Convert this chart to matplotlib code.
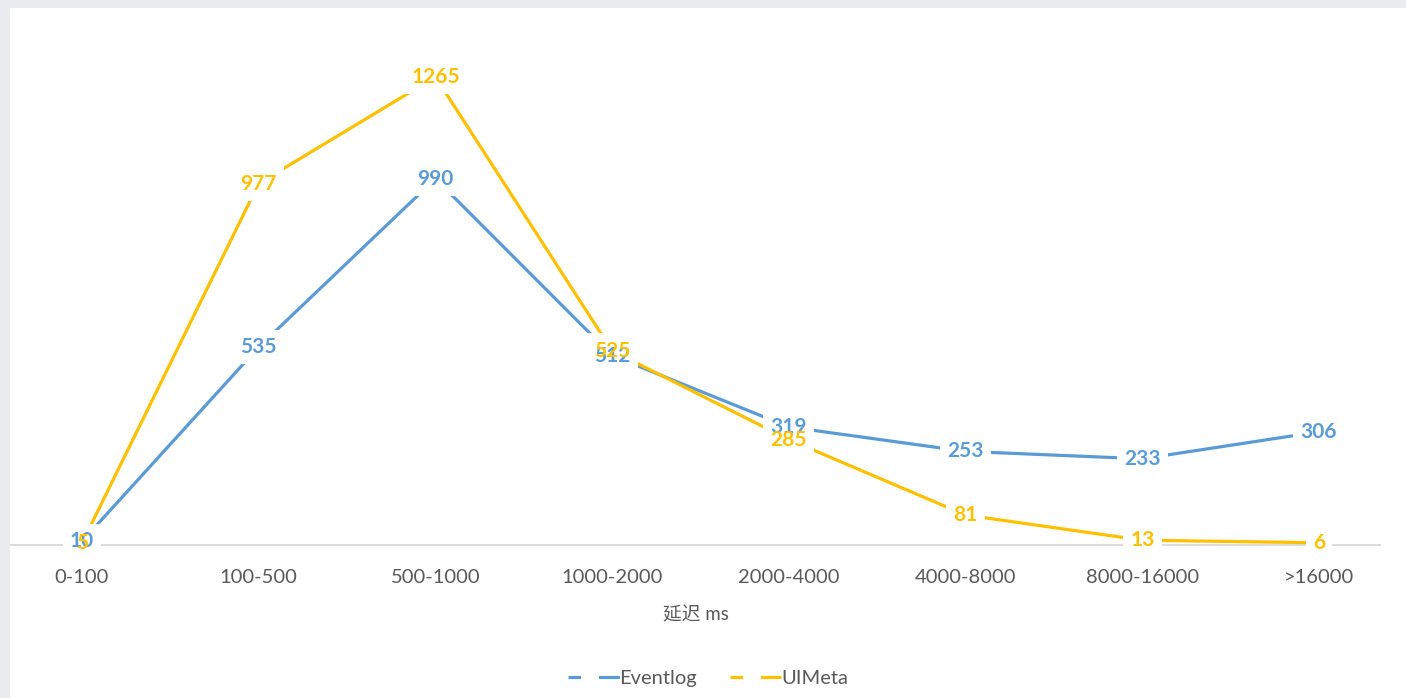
import matplotlib
matplotlib.use('Agg')
import matplotlib.pyplot as plt
from matplotlib.lines import Line2D
from matplotlib.patches import Rectangle

plt.rcParams['font.family'] = ['Lato', 'Noto Sans CJK SC', 'DejaVu Sans']
plt.rcParams['lines.scale_dashes'] = False

categories = ['0-100', '100-500', '500-1000', '1000-2000', '2000-4000',
              '4000-8000', '8000-16000', '>16000']
eventlog = [10, 535, 990, 512, 319, 253, 233, 306]
uimeta = [5, 977, 1265, 525, 285, 81, 13, 6]

blue = '#5B9BD5'
yellow = '#FFC000'
grey_text = '#595959'

W, H = 1406, 698
fig = plt.figure(figsize=(W / 100, H / 100), dpi=100, facecolor='#EBECF0')
# white chart panel inside the grey frame
fig.add_artist(Rectangle((10 / W, 0), 1 - 10 / W, 1 - 8 / H,
                         transform=fig.transFigure, facecolor='white',
                         edgecolor='none', zorder=0))

ax = fig.add_axes([11 / W, 1 - 545 / H, (1380 - 11) / W, (545 - 27) / H])
ax.set_facecolor('none')

x = list(range(len(categories)))
ax.plot(x, eventlog, color=blue, lw=2.3, solid_capstyle='butt', zorder=2)
ax.plot(x, uimeta, color=yellow, lw=2.3, solid_capstyle='butt', zorder=2)

# data labels: white boxes cut the lines, text drawn on top of all boxes
for vals, col in [(eventlog, blue), (uimeta, yellow)]:
    for xi, v in zip(x, vals):
        ax.text(xi, v, str(v), ha='center', va='center', fontsize=15,
                fontweight='bold', color='white', zorder=3,
                bbox=dict(boxstyle='square,pad=0.35', fc='white', ec='none'))
for vals, col in [(eventlog, blue), (uimeta, yellow)]:
    for xi, v in zip(x, vals):
        ax.text(xi, v, str(v), ha='center', va='center', fontsize=15,
                fontweight='bold', color=col, zorder=4)

unit = 176.7
ax.set_xlim(-71 / unit, 7 + 61 / unit)
ax.set_ylim(0, 1400)
ax.set_xticks(x)
ax.set_xticklabels(categories, fontsize=14.5, color=grey_text)
ax.tick_params(axis='x', length=0, pad=17)
ax.set_yticks([])
for s in ['top', 'left', 'right']:
    ax.spines[s].set_visible(False)
ax.spines['bottom'].set_color('#D9D9D9')
ax.spines['bottom'].set_linewidth(1.3)
ax.spines['bottom'].set_zorder(1)

ax.set_xlabel('延迟 ms', fontsize=13.5, color=grey_text, labelpad=15)

dash = (0, (9, 13, 15, 30))
handles = [Line2D([], [], color=blue, lw=2.3, linestyle=dash),
           Line2D([], [], color=yellow, lw=2.3, linestyle=dash)]
fig.legend(handles, ['Eventlog', 'UIMeta'], loc='center',
           bbox_to_anchor=(708 / W, 1 - 678 / H), ncol=2, frameon=False,
           fontsize=14.5, labelcolor=grey_text, handlelength=2.55,
           handletextpad=0.0, columnspacing=1.6)

fig.savefig('out.png', dpi=100, facecolor=fig.get_facecolor())
